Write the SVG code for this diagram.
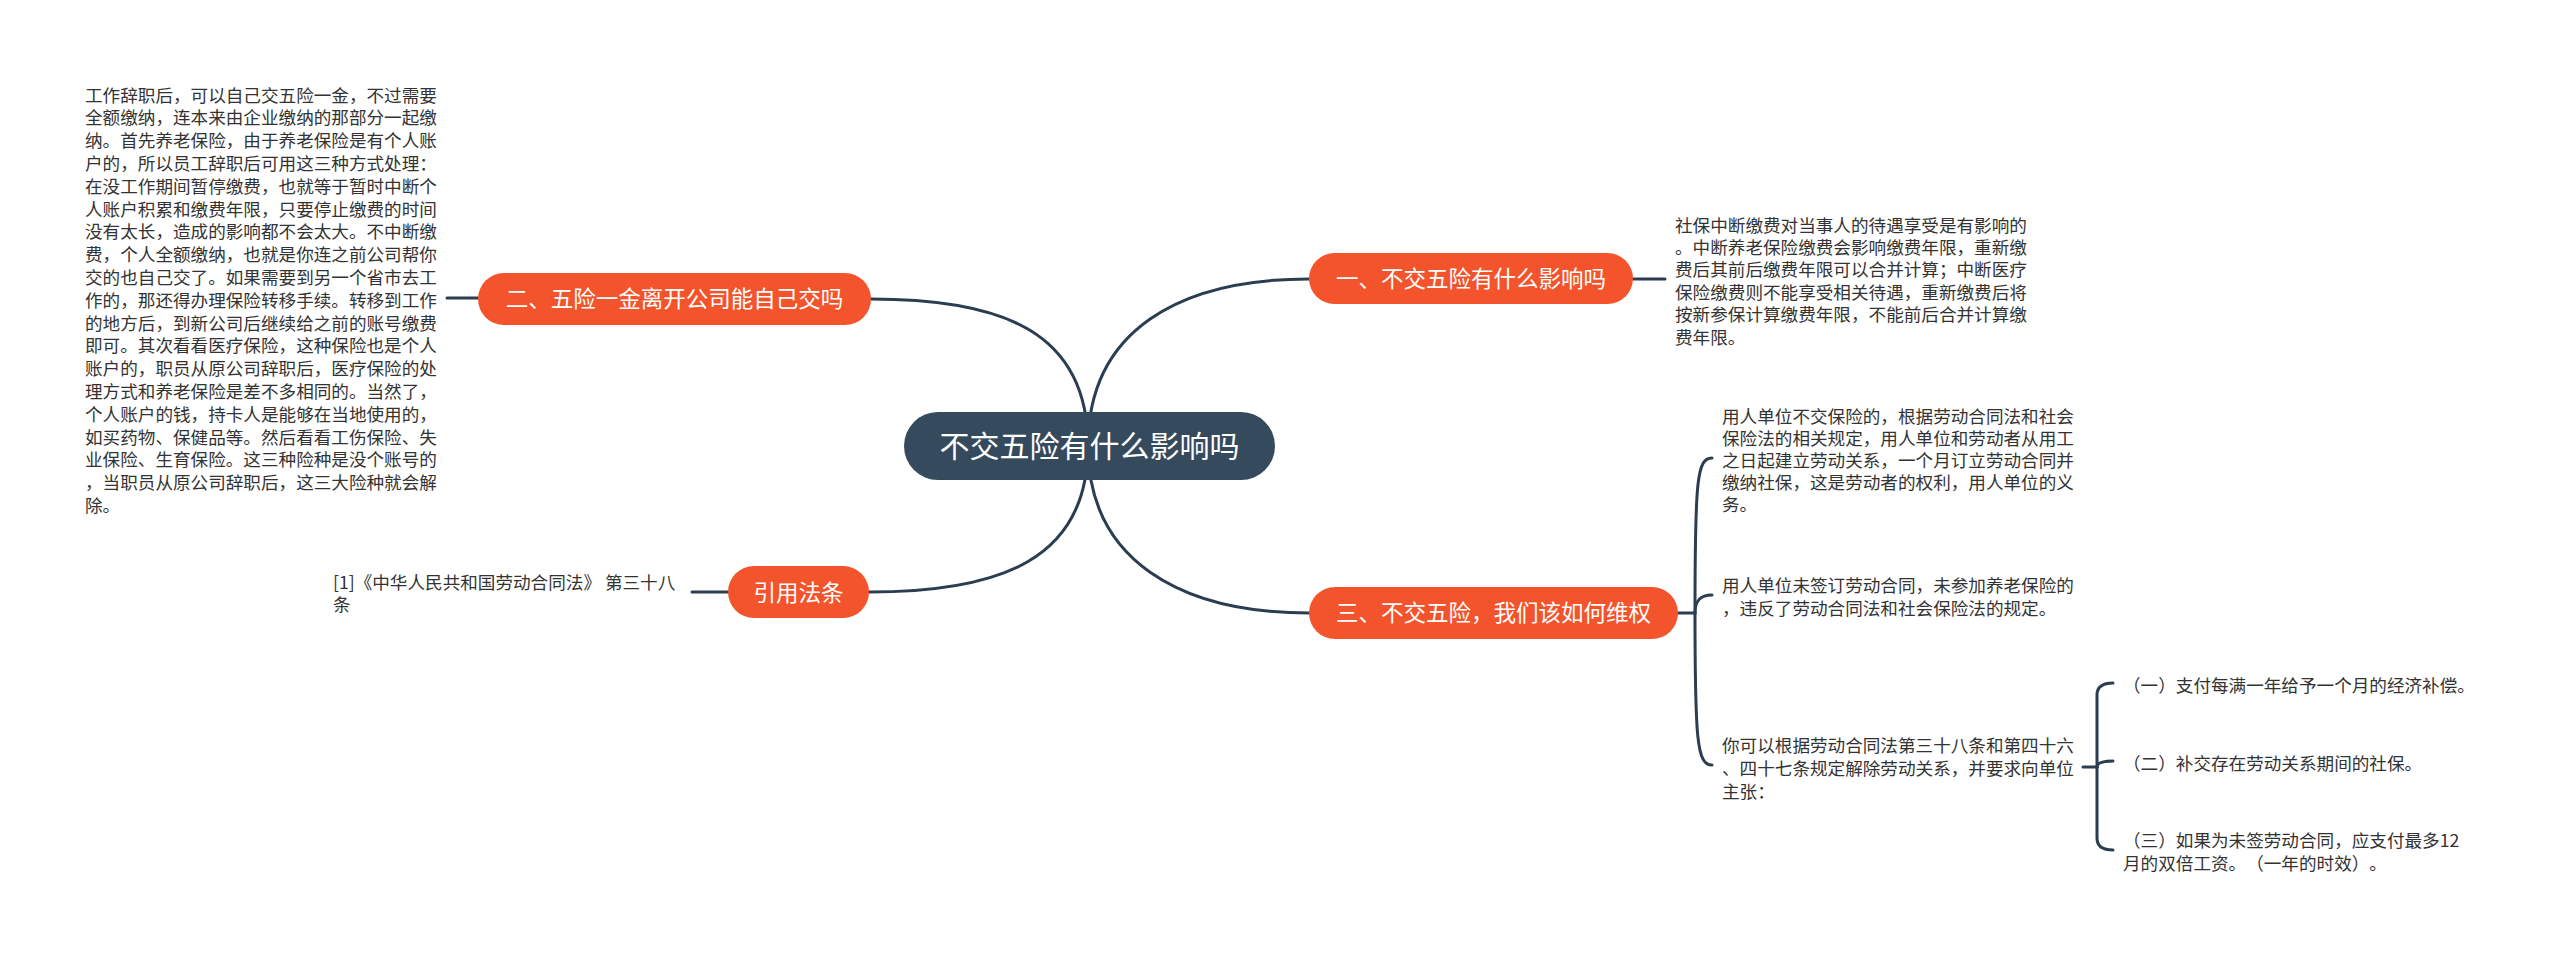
<svg xmlns="http://www.w3.org/2000/svg" width="2560" height="957" viewBox="0 0 2560 957">
<style>
.ln{fill:none;stroke:#2b3d50;stroke-width:3;stroke-linecap:round}
.topic{fill:#f4542c}
.root{fill:#354a5c}
.tt{font-family:"Noto Sans CJK SC","Noto Sans",sans-serif;fill:#ffffff;text-anchor:middle;text-spacing-trim:space-all}
.bt{font-family:"Noto Sans CJK SC","Noto Sans",sans-serif;fill:#333333;font-size:17.6px;text-spacing-trim:space-all}
</style>
<rect width="2560" height="957" fill="#ffffff"/>
<g id="connectors">
<path class="ln" d="M1088 446 C1088 330 1180 279 1309 279"/>
<path class="ln" d="M1088 446 C1088 330 1000 299 871 299"/>
<path class="ln" d="M1088 446 C1088 560 1180 613 1309 613"/>
<path class="ln" d="M1088 446 C1088 560 1000 592 869 592"/>
<path class="ln" d="M1633 279 L1665 279"/>
<path class="ln" d="M447 298 L478 298"/>
<path class="ln" d="M692 592 L728 592"/>
<path class="ln" d="M1678 613 L1695 613"/>
<path class="ln" d="M1695 613 C1695 480 1697 458 1712 458"/>
<path class="ln" d="M1695 613 C1695 601 1700 595 1712 595"/>
<path class="ln" d="M1695 613 C1695 740 1697 765 1712 765"/>
<path class="ln" d="M2083 767 L2097 767"/>
<path class="ln" d="M2097 767 L2097 695 Q2097 683 2113 683"/>
<path class="ln" d="M2097 767 Q2097 761 2113 761"/>
<path class="ln" d="M2097 767 L2097 838 Q2097 850 2113 850"/>
</g>
<g id="root">
<rect class="root" x="904" y="412" width="371" height="68" rx="34"/>
<text class="tt" x="1089.5" y="457" font-size="30">不交五险有什么影响吗</text>
</g>
<g id="topic1">
<rect class="topic" x="1309" y="253" width="324" height="51" rx="25.5"/>
<text class="tt" x="1471" y="287" font-size="22.5">一、不交五险有什么影响吗</text>
</g>
<g id="topic1-text">
<text class="bt" x="1675" y="231.5">社保中断缴费对当事人的待遇享受是有影响的</text>
<text class="bt" x="1675" y="253.9">。中断养老保险缴费会影响缴费年限，重新缴</text>
<text class="bt" x="1675" y="276.3">费后其前后缴费年限可以合并计算；中断医疗</text>
<text class="bt" x="1675" y="298.7">保险缴费则不能享受相关待遇，重新缴费后将</text>
<text class="bt" x="1675" y="321.1">按新参保计算缴费年限，不能前后合并计算缴</text>
<text class="bt" x="1675" y="343.5">费年限。</text>
</g>
<g id="topic2">
<rect class="topic" x="478" y="273" width="393" height="52" rx="26"/>
<text class="tt" x="674.5" y="307" font-size="22.5">二、五险一金离开公司能自己交吗</text>
</g>
<g id="topic2-text">
<text class="bt" x="85" y="101.5">工作辞职后，可以自己交五险一金，不过需要</text>
<text class="bt" x="85" y="124.3">全额缴纳，连本来由企业缴纳的那部分一起缴</text>
<text class="bt" x="85" y="147.1">纳。首先养老保险，由于养老保险是有个人账</text>
<text class="bt" x="85" y="169.9">户的，所以员工辞职后可用这三种方式处理：</text>
<text class="bt" x="85" y="192.7">在没工作期间暂停缴费，也就等于暂时中断个</text>
<text class="bt" x="85" y="215.5">人账户积累和缴费年限，只要停止缴费的时间</text>
<text class="bt" x="85" y="238.3">没有太长，造成的影响都不会太大。不中断缴</text>
<text class="bt" x="85" y="261.1">费，个人全额缴纳，也就是你连之前公司帮你</text>
<text class="bt" x="85" y="283.9">交的也自己交了。如果需要到另一个省市去工</text>
<text class="bt" x="85" y="306.7">作的，那还得办理保险转移手续。转移到工作</text>
<text class="bt" x="85" y="329.5">的地方后，到新公司后继续给之前的账号缴费</text>
<text class="bt" x="85" y="352.3">即可。其次看看医疗保险，这种保险也是个人</text>
<text class="bt" x="85" y="375.1">账户的，职员从原公司辞职后，医疗保险的处</text>
<text class="bt" x="85" y="397.9">理方式和养老保险是差不多相同的。当然了，</text>
<text class="bt" x="85" y="420.7">个人账户的钱，持卡人是能够在当地使用的，</text>
<text class="bt" x="85" y="443.5">如买药物、保健品等。然后看看工伤保险、失</text>
<text class="bt" x="85" y="466.3">业保险、生育保险。这三种险种是没个账号的</text>
<text class="bt" x="85" y="489.1">，当职员从原公司辞职后，这三大险种就会解</text>
<text class="bt" x="85" y="511.9">除。</text>
</g>
<g id="topic4">
<rect class="topic" x="728" y="566" width="141" height="52" rx="26"/>
<text class="tt" x="798.5" y="600.5" font-size="22.5">引用法条</text>
</g>
<g id="topic4-text">
<text class="bt" x="333" y="589">[1]《中华人民共和国劳动合同法》 第三十八</text>
<text class="bt" x="333" y="611">条</text>
</g>
<g id="topic3">
<rect class="topic" x="1309" y="587" width="369" height="52" rx="26"/>
<text class="tt" x="1493.5" y="621" font-size="22.5">三、不交五险，我们该如何维权</text>
</g>
<g id="topic3-child1">
<text class="bt" x="1722" y="422.5">用人单位不交保险的，根据劳动合同法和社会</text>
<text class="bt" x="1722" y="444.5">保险法的相关规定，用人单位和劳动者从用工</text>
<text class="bt" x="1722" y="466.5">之日起建立劳动关系，一个月订立劳动合同并</text>
<text class="bt" x="1722" y="488.5">缴纳社保，这是劳动者的权利，用人单位的义</text>
<text class="bt" x="1722" y="510.5">务。</text>
</g>
<g id="topic3-child2">
<text class="bt" x="1722" y="592">用人单位未签订劳动合同，未参加养老保险的</text>
<text class="bt" x="1722" y="615">，违反了劳动合同法和社会保险法的规定。</text>
</g>
<g id="topic3-child3">
<text class="bt" x="1722" y="752">你可以根据劳动合同法第三十八条和第四十六</text>
<text class="bt" x="1722" y="775">、四十七条规定解除劳动关系，并要求向单位</text>
<text class="bt" x="1722" y="798">主张：</text>
</g>
<g id="claim1">
<text class="bt" x="2123" y="691.5">（一）支付每满一年给予一个月的经济补偿。</text>
</g>
<g id="claim2">
<text class="bt" x="2123" y="769.5">（二）补交存在劳动关系期间的社保。</text>
</g>
<g id="claim3">
<text class="bt" x="2123" y="846.5">（三）如果为未签劳动合同，应支付最多12</text>
<text class="bt" x="2123" y="869.5">月的双倍工资。（一年的时效）。</text>
</g>
</svg>
